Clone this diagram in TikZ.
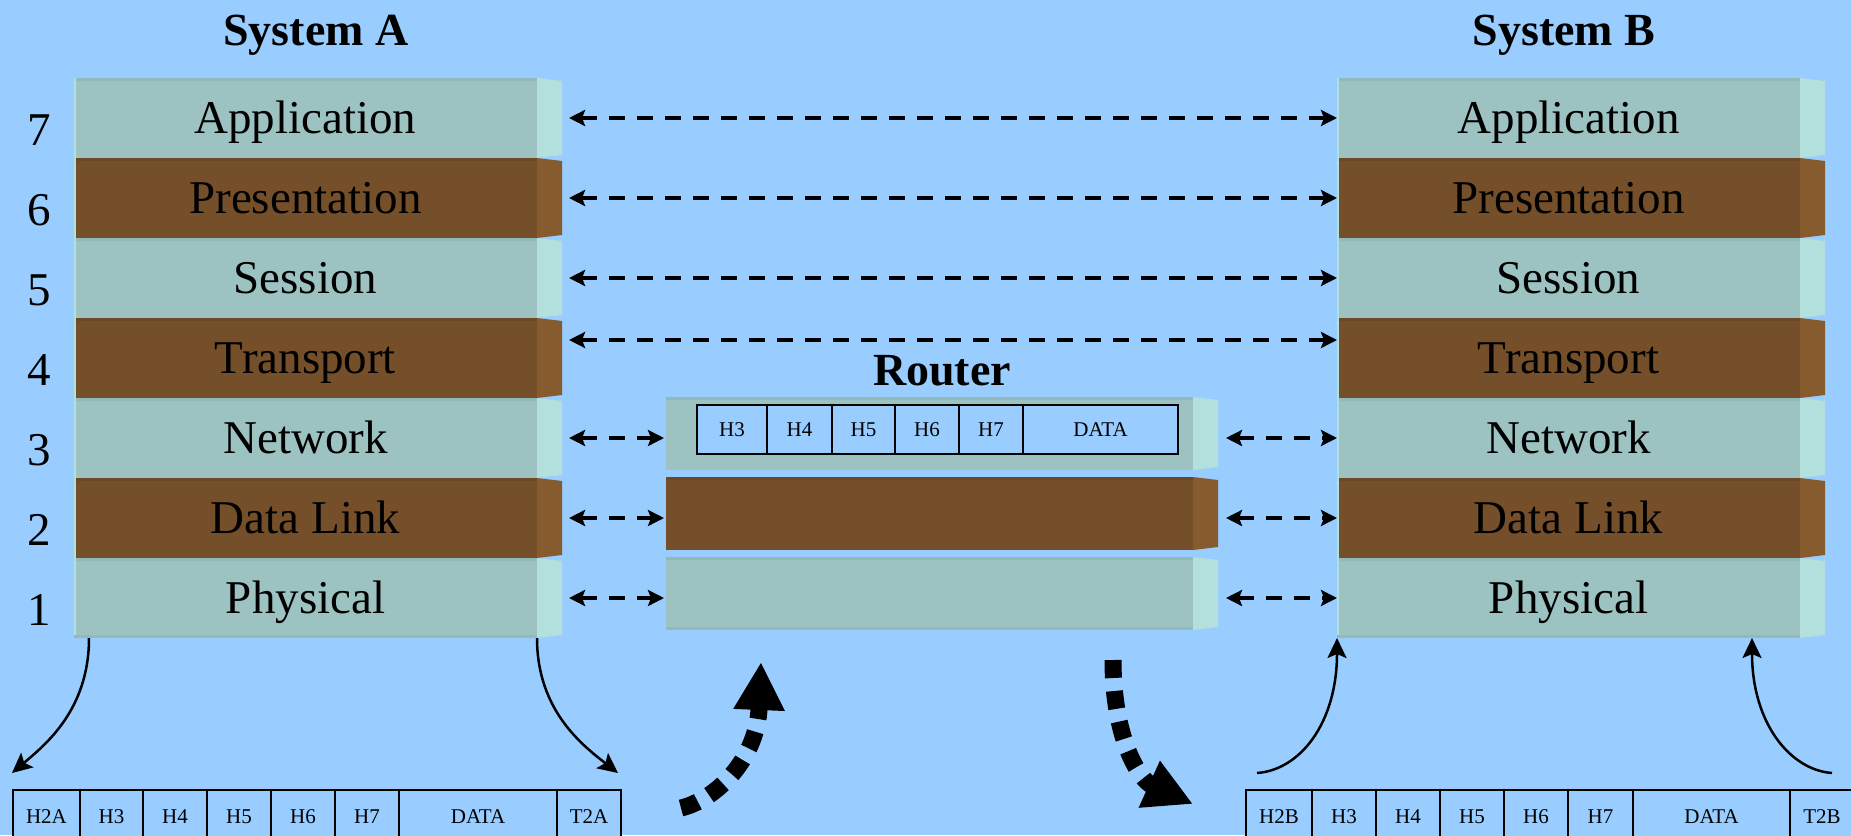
\documentclass[tikz,border=0pt]{standalone}
\usepackage{fontspec}
\setmainfont{Liberation Serif}
\usetikzlibrary{arrows.meta,calc}
\definecolor{bg}{HTML}{99CCFF}
\definecolor{faceT}{HTML}{9CC3C1}
\definecolor{topT}{HTML}{92BAB9}
\definecolor{sideT}{HTML}{B3DFDD}
\definecolor{edgeT}{HTML}{B3DFDD}
\definecolor{faceB}{HTML}{744F29}
\definecolor{topB}{HTML}{6C4925}
\definecolor{sideB}{HTML}{865C2E}
\begin{document}
\begin{tikzpicture}[x=1pt,y=-1pt,
  layer/.style={anchor=north west, inner sep=0pt, outer sep=0pt,
    minimum width=463pt, minimum height=80pt,
    text height=31pt, text depth=0pt, font=\fontsize{47}{56}\selectfont},
  rowT/.style={layer, fill=faceT},
  rowB/.style={layer, fill=faceB},
  rlayer/.style={anchor=north west, inner sep=0pt, outer sep=0pt,
    minimum width=527pt, minimum height=73pt},
  num/.style={inner sep=0pt, text height=32pt, text depth=0pt,
    font=\fontsize{47}{56}\selectfont},
  title/.style={inner sep=0pt, anchor=base, font=\bfseries\fontsize{46}{55}\selectfont},
  cell/.style={draw, line width=2pt, fill=bg, anchor=north west, inner sep=0pt,
    text height=14pt, text depth=0pt, font=\fontsize{21}{25}\selectfont},
  darr/.style={line width=4pt, dash pattern=on 16pt off 12pt,
    arrows={Stealth[length=16pt,width=16pt,inset=3pt]-Stealth[length=16pt,width=16pt,inset=3pt]}},
  carr/.style={line width=2.5pt, arrows={-Stealth[length=20pt,width=19pt,inset=4pt]}},
  bigdash/.style={line width=17pt, dash pattern=on 18pt off 13pt,
    arrows={-Triangle[length=48pt,width=48pt]}}
]
\useasboundingbox (0,0) rectangle (1851,835);
\clip (0,0) rectangle (1851,835);
\fill[bg] (0,0) rectangle (1851,835);

% titles
\node[title] (ta) at (316,45) {System A};
\node[title] (tb) at (1564,45) {System B};
\node[title] (tr) at (942,385) {Router};

% stacks
\foreach \n/\t/\c in {7/Application/T,6/Presentation/B,5/Session/T,4/Transport/B,3/Network/T,2/Data Link/B,1/Physical/T}{
  \pgfmathsetmacro\ytop{78+80*(7-\n)}
  \node[row\c] (a\n) at (74,\ytop) {\t};
  \node[row\c] (b\n) at (1337,\ytop) {\t};
  \node[num] (n\n) at (39,\ytop+51) {\n};
  \foreach \s in {a,b}{
    \fill[side\c] (\s\n.north east) -- ++(25,3) -- ($(\s\n.south east)+(25,-3)$) -- (\s\n.south east) -- cycle;
    \fill[top\c] (\s\n.north west) rectangle ($(\s\n.north east)+(0,3)$);
    \fill[edgeT] (\s\n.north west) rectangle ($(\s\n.south west)+(2,0)$);
  }
}
\fill[topT] ($(a1.south west)+(0,-3)$) rectangle (a1.south east);
\fill[topT] ($(b1.south west)+(0,-3)$) rectangle (b1.south east);

% router
\foreach \n/\y/\c in {3/397/T,2/477/B,1/557/T}{
  \node[rlayer, fill=face\c] (r\n) at (666,\y) {};
  \fill[side\c] (r\n.north east) -- ++(25,3) -- ($(r\n.south east)+(25,-3)$) -- (r\n.south east) -- cycle;
  \fill[top\c] (r\n.north west) rectangle ($(r\n.north east)+(0,3)$);
}
\fill[topT] ($(r1.south west)+(0,-3)$) rectangle (r1.south east);

% router header cells
\foreach \k/\x/\w/\t in {1/696/70/H3,2/766/65/H4,3/831/63/H5,4/894/64/H6,5/958/64/H7,6/1022/155/DATA}{
  \node[cell, minimum width=\w pt, minimum height=49pt] (h\k) at (\x,404) {\t};
}

% bottom frames
\foreach \k/\x/\w/\t in {1/12/67/H2A,2/79/63/H3,3/142/64/H4,4/206/64/H5,5/270/64/H6,6/334/64/H7,7/398/158/DATA,8/556/64/T2A}{
  \node[cell, minimum width=\w pt, minimum height=52pt] (cA\k) at (\x,789) {\t};
}
\foreach \k/\x/\w/\t in {1/1245/66/H2B,2/1311/64/H3,3/1375/64/H4,4/1439/64/H5,5/1503/64/H6,6/1567/65/H7,7/1632/157/DATA,8/1789/64/T2B}{
  \node[cell, minimum width=\w pt, minimum height=52pt] (cB\k) at (\x,789) {\t};
}

% peer arrows
\foreach \n in {7,6,5}{
  \draw[darr] ([xshift=32pt]a\n.east) -- (b\n.west);
}
\draw[darr] ([xshift=32pt,yshift=18pt]a4.east) -- ([yshift=18pt]b4.west);
\foreach \n in {3,2,1}{
  \draw[darr] ([xshift=32pt]a\n.east) -- ($(a\n.east -| r\n.west)+(-2,0)$);
  \draw[darr] ($(b\n.west -| r\n.east)+(33,0)$) -- (b\n.west);
}

% curved arrows
\draw[carr] ([xshift=15pt]a1.south west) .. controls +(0,72) and +(33,-28) .. ([yshift=16pt]cA1.north west);
\draw[carr] (a1.south east) .. controls +(0,72) and +(-36,-28) .. ([xshift=-4pt,yshift=16pt]cA8.north east);
\draw[carr] ([xshift=12pt,yshift=16pt]cB1.north west) .. controls +(43,-3) and +(0,85) .. (b1.south west);
\draw[carr] ([xshift=43pt,yshift=16pt]cB8.north west) .. controls +(-42,-3) and +(0,85) .. ([xshift=-48pt]b1.south east);

% big dotted arrows
\coordinate (p1) at (681,808);
\coordinate (p2) at (761,662);
\coordinate (q1) at (1113,660);
\coordinate (q2) at (1193,804);
\draw[bigdash] (p1) .. controls (715,800) and (757,760) .. (p2);
\draw[bigdash] (q1) .. controls (1113,740) and (1140,780) .. (q2);
\end{tikzpicture}
\end{document}
